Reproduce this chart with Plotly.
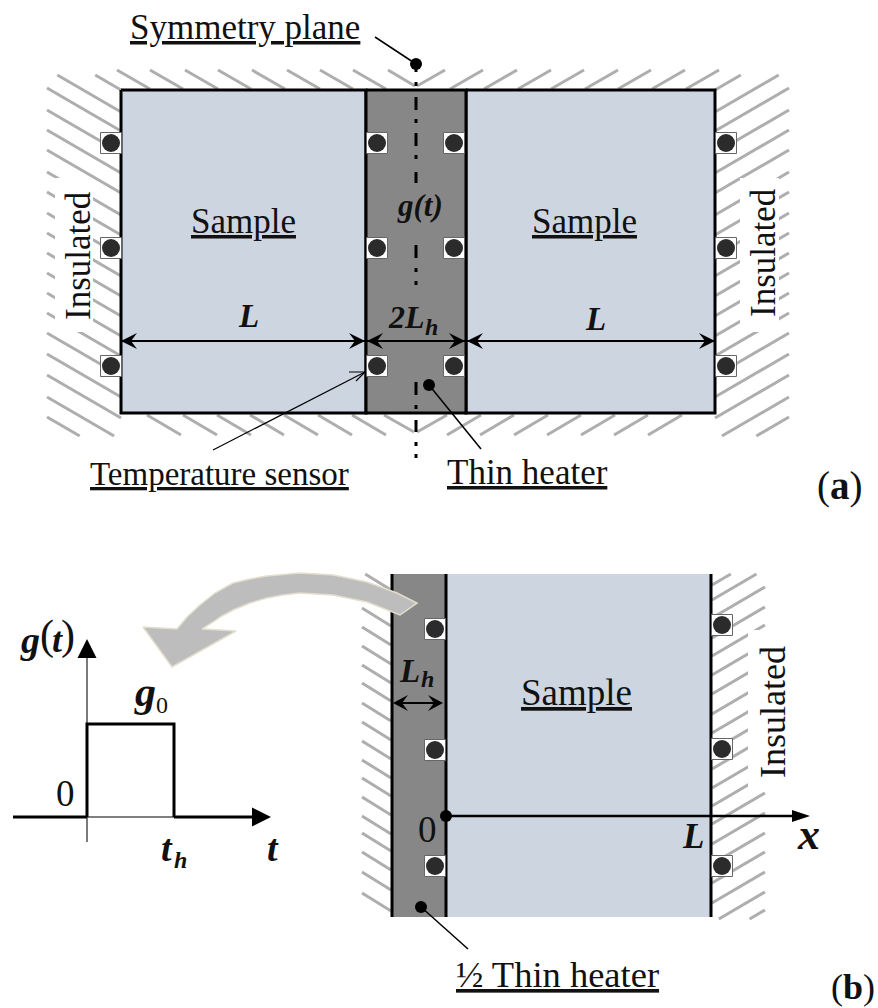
import plotly.graph_objects as go

W, H = 878, 1008
SERIF = "Liberation Serif"
SAMPLE = "#cdd5e1"
HEATER = "#878787"
HATCH = "#aeaeae"
INK = "#000000"
DOT = "#2b2b2b"

# ---- panel (a) geometry ----
a_left = [121, 366]
a_heater = [366, 466]
a_right = [466, 715]
a_y = [90, 413]
a_left_hatch_y = [47, 69, 88, 110, 130, 150, 172, 192, 213, 233, 253, 273, 293, 313, 333, 354, 375, 397, 417]
a_top_left_x = [117, 150, 185, 218, 252, 287, 320, 353]
a_top_right_x = [450, 484, 518, 551, 585, 618, 652, 686]
a_bot_left_x = [147, 183, 217, 250, 284, 318, 352]
a_bot_right_x = [447, 480, 514, 547, 581, 614, 648]
a_sensor_x = [111, 377, 454, 726]
a_sensor_y = [143, 248, 366]
sym_long = [(66, 72), (97, 110), (133, 146), (172, 183), (245, 258), (382, 395), (420, 432)]
sym_dots = [84, 121, 157, 270, 283, 407, 444, 456]

# ---- panel (b) geometry ----
b_heater = [392, 446]
b_sample = [446, 711]
b_y = [574, 917]
b_left_hatch_y = [572, 590, 608, 627, 646, 665, 683, 703, 722, 741, 760, 778, 797, 816, 833, 852, 872, 893]
b_right_hatch_y = [554, 569, 587, 607, 625, 644, 663, 683, 702, 720, 738, 757, 775, 793, 813, 833, 852, 872, 892, 910]
b_sensor_left = [(435, 629), (435, 750), (435, 866)]
b_sensor_right = [(722, 625), (722, 749), (722, 866)]
swoosh_x = [143, 177, 188, 200, 215, 233, 250, 267, 300, 333, 367, 397, 417, 400, 367, 333, 300, 283, 267, 250, 233, 222, 213, 202, 236, 172]
swoosh_y = [627, 629, 616, 605, 593, 583, 579, 576, 573, 575, 582, 593, 603, 615, 602, 595, 593, 595, 598, 603, 610, 616, 622, 629, 631, 667]

# ---- pulse plot ----
pulse_x = [87, 87, 174, 174]
pulse_y = [817, 724, 724, 817]

fig = go.Figure()


def line(xs, ys, color=INK, width=2.5):
    fig.add_trace(go.Scatter(x=xs, y=ys, mode="lines", hoverinfo="skip",
                             line=dict(color=color, width=width, simplify=False)))


def poly(xs, ys, fill, edge=None, width=0):
    fig.add_trace(go.Scatter(x=list(xs) + [xs[0]], y=list(ys) + [ys[0]], mode="lines", fill="toself",
                             fillcolor=fill, hoverinfo="skip",
                             line=dict(color=edge or fill, width=width)))


def rect(x, y, fill, edge=None, width=0):
    poly([x[0], x[1], x[1], x[0]], [y[0], y[0], y[1], y[1]], fill, edge, width)


def clipped(x0, y0, x1, y1, top, bottom):
    if y0 > y1:
        x0, y0, x1, y1 = x1, y1, x0, y0
    k = (x1 - x0) / (y1 - y0)
    if y0 < top:
        x0, y0 = x0 + (top - y0) * k, top
    if y1 > bottom:
        x1, y1 = x0 + (bottom - y0) * k, bottom
    return [x0, x1, None], [y0, y1, None]


def hatch(segments, top, bottom):
    xs, ys = [], []
    for s in segments:
        if max(s[1], s[3]) <= top or min(s[1], s[3]) >= bottom:
            continue
        px, py = clipped(*s, top, bottom)
        xs += px
        ys += py
    line(xs, ys, HATCH, 3)


def head(tip_x, tip_y, dx, dy, length=16, half=8, notch=10, color=INK):
    nx, ny = -dy, dx
    bx, by = tip_x - dx * length, tip_y - dy * length
    mx, my = tip_x - dx * notch, tip_y - dy * notch
    poly([tip_x, bx + nx * half, mx, bx - nx * half],
         [tip_y, by + ny * half, my, by - ny * half], color)


def sensors(points):
    xs = [p[0] for p in points]
    ys = [p[1] for p in points]
    fig.add_trace(go.Scatter(x=xs, y=ys, mode="markers", hoverinfo="skip",
                             marker=dict(symbol="square", size=21, color="white",
                                         line=dict(color="#666666", width=1))))
    fig.add_trace(go.Scatter(x=xs, y=ys, mode="markers", hoverinfo="skip",
                             marker=dict(symbol="circle", size=18, color=DOT)))


def dot(x, y, size=12, color=INK):
    fig.add_trace(go.Scatter(x=[x], y=[y], mode="markers", hoverinfo="skip",
                             marker=dict(symbol="circle", size=size, color=color)))


# ---- panel (a) hatching ----
segs = [(47, y, 121, y + 43) for y in a_left_hatch_y]
segs += [(836 - 47, y, 836 - 121, y + 43) for y in a_left_hatch_y]
hatch(segs, 75, 436)
segs = [(x, 70, x + 33, 89) for x in a_top_left_x] + [(388, 70, 415, 86)]
segs += [(417, 86, 445, 70)] + [(x, 89, x + 33, 70) for x in a_top_right_x]
segs += [(x, 415, x + 34, 435) for x in a_bot_left_x] + [(384, 415, 414, 432)]
segs += [(417, 432, 447, 415)] + [(x, 435, x + 34, 415) for x in a_bot_right_x]
hatch(segs, 60, 440)
rect([55, 93], [178, 332], "white")
rect([740, 779], [178, 332], "white")

# ---- panel (a) blocks ----
rect(a_left, a_y, SAMPLE, INK, 3)
rect(a_right, a_y, SAMPLE, INK, 3)
rect(a_heater, a_y, HEATER, INK, 3)

# symmetry line
xs, ys = [], []
for y0, y1 in sym_long:
    xs += [416, 416, None]
    ys += [y0, y1, None]
line(xs, ys, INK, 3)
xs, ys = [], []
for y0 in sym_dots:
    xs += [416, 416, None]
    ys += [y0 - 2, y0 + 2, None]
line(xs, ys, INK, 3)
dot(416, 64)
line([375, 416], [37, 64], INK, 1.5)

sensors([(x, y) for x in a_sensor_x for y in a_sensor_y])

# dimension arrows
line([121, 366], [341, 341], INK, 2)
line([366, 466], [341, 341], INK, 2)
line([466, 715], [341, 341], INK, 2)
for tip, d in [(121, -1), (365, 1), (367, -1), (465, 1), (467, -1), (715, 1)]:
    head(tip, 341, d, 0)

# pointers
line([213, 365], [450, 372], INK, 1.2)
line([349, 365, 356], [372, 372, 381], INK, 1.2)
dot(429, 385)
line([429, 481], [385, 449], INK, 1.5)

# ---- panel (b) hatching ----
hatch([(362, y, 391, y + 18) for y in b_left_hatch_y], 574, 919)
hatch([(765, y, 712, y + 31) for y in b_right_hatch_y], 574, 919)
rect([748, 790], [630, 788], "white")

# ---- panel (b) blocks ----
rect(b_heater, b_y, HEATER)
rect(b_sample, b_y, SAMPLE)
line([392, 392], b_y, INK, 3)
line([446, 446], b_y, INK, 3)
line([711, 711], b_y, INK, 3)
sensors(b_sensor_left + b_sensor_right)

line([446, 795], [816, 816], INK, 2.5)
head(810, 816, 1, 0, length=18, half=6, notch=18)
dot(446, 816)
line([396, 440], [703, 703], INK, 2)
head(393, 703, -1, 0, length=15, half=8, notch=9)
head(443, 703, 1, 0, length=15, half=8, notch=9)
dot(421, 907)
line([421, 468], [907, 949], INK, 1.5)

# swoosh
poly(swoosh_x, swoosh_y, "#bdbdbd", "#e2dfcc", 1.5)

# ---- pulse plot ----
line([87, 87], [650, 842], "#222222", 1.2)
head(87, 639, 0, -1, length=19, half=9.5, notch=19)
line([87, 174], [817, 817], "#555555", 1.5)
line([13, 87], [817, 817], INK, 3)
line([174, 255], [817, 817], INK, 3)
head(271, 817, 1, 0, length=19, half=9.5, notch=19)
line(pulse_x, pulse_y, INK, 3)

# ---- text ----
texts = [
    ("<u>Symmetry plane</u>", 245, 27, 35, 0),
    ("<u>Sample</u>", 243, 221, 35, 0),
    ("<u>Sample</u>", 584, 221, 35, 0),
    ("<u>Temperature sensor</u>", 219, 474, 33, 0),
    ("<u>Thin heater</u>", 527, 472, 35, 0),
    ("Insulated", 78, 256, 35, -90),
    ("Insulated", 763, 253, 35, -90),
    ("<b><i>g(t)</i></b>", 420, 205, 31, 0),
    ("<b><i>L</i></b>", 248, 316, 33, 0),
    ("<b><i>L</i></b>", 595, 319, 33, 0),
    ("<b><i>2L</i></b>", 406, 317, 32, 0),
    ("<b><i>h</i></b>", 431, 327, 24, 0),
    ("(<b>a</b>)", 840, 486, 39, 0),
    ("<u>Sample</u>", 576, 692, 37, 0),
    ("Insulated", 773, 712, 36, -90),
    ("<b><i>L</i></b>", 409, 671, 33, 0),
    ("<b><i>h</i></b>", 427, 679, 24, 0),
    ("0", 427, 829, 37, 0),
    ("<b><i>L</i></b>", 693, 836, 35, 0),
    ("<b><i>x</i></b>", 808, 834, 44, 0),
    ("<u>½ Thin heater</u>", 557, 974, 36.5, 0),
    ("(<b>b</b>)", 853, 987, 36, 0),
    ("<b><i>g</i></b>", 30, 640, 38, 0),
    ("(", 47, 635, 42, 0),
    ("<b><i>t</i></b>", 57, 640, 36, 0),
    (")", 68, 635, 42, 0),
    ("<b><i>g</i></b>", 145, 692, 42, 0),
    ("0", 162, 705, 24, 0),
    ("0", 65, 793, 37, 0),
    ("<b><i>t</i></b>", 167, 848, 38, 0),
    ("<b><i>h</i></b>", 180, 860, 24, 0),
    ("<b><i>t</i></b>", 273, 848, 38, 0),
]
annotations = [
    dict(text=t, x=x, y=y, xref="x", yref="y", showarrow=False, xanchor="center", yanchor="middle",
         textangle=a, font=dict(family=SERIF, size=s, color="#111111"))
    for t, x, y, s, a in texts
]

fig.update_layout(
    width=W, height=H, margin=dict(l=0, r=0, t=0, b=0), showlegend=False,
    paper_bgcolor="white", plot_bgcolor="white",
    xaxis=dict(range=[0, W], visible=False, fixedrange=True),
    yaxis=dict(range=[H, 0], visible=False, fixedrange=True),
    annotations=annotations,
)
fig.write_html("out.html", config=dict(displayModeBar=False),
               post_script="document.body.style.margin='0';")
